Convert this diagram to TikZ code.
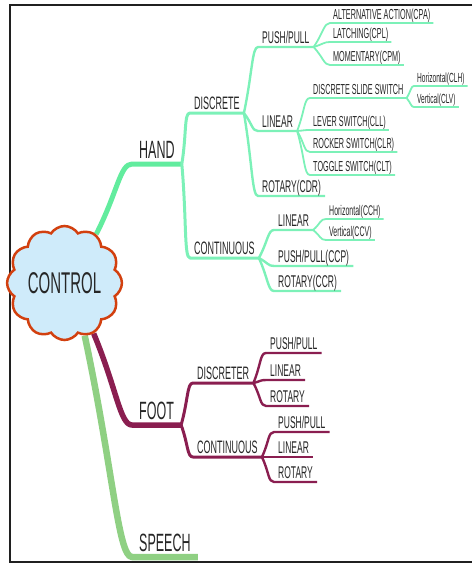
\documentclass[tikz,border=0pt]{standalone}
\usepackage{fontspec}
\usetikzlibrary{shapes.symbols,calc}
\newfontfamily\mmfont[FakeStretch=0.5]{Liberation Sans}
\definecolor{hand}{HTML}{62EC9E}
\definecolor{handlt}{HTML}{7CF1B8}
\definecolor{foot}{HTML}{8A1E50}
\definecolor{speech}{HTML}{8FD083}
\definecolor{cloudfill}{HTML}{CFEBFA}
\definecolor{cloudline}{HTML}{D2400F}
\definecolor{txt}{HTML}{262626}
\definecolor{frame}{HTML}{202020}
\pgfdeclarelayer{background}
\pgfsetlayers{background,main}

\begin{document}
\begin{tikzpicture}[x=1pt,y=1pt,
      lab/.style={anchor=south west,inner ysep=3.5pt,text depth=0pt,text=txt},
      l1/.style={lab,inner xsep=7pt,inner ysep=5pt,font=\mmfont\fontsize{25}{25}\selectfont},
      l2/.style={lab,inner xsep=4pt,font=\mmfont\fontsize{18}{18}\selectfont},
      l3/.style={lab,inner xsep=4pt,font=\mmfont\fontsize{17}{17}\selectfont},
      l4/.style={lab,inner xsep=3pt,font=\mmfont\fontsize{14.5}{14.5}\selectfont},
      l5/.style={lab,inner xsep=3pt,font=\mmfont\fontsize{14}{14}\selectfont},
      twig/.style={to path={.. controls ($(\tikztostart)!.6!(\tikztotarget)$) and ([xshift=-#1]\tikztotarget) .. (\tikztotarget) \tikztonodes}},
      twig/.default=6pt,
      hand1/.style={draw=hand,line width=5pt,line join=round},
      hand2/.style={draw=handlt,line width=3pt,line join=round},
      hand3/.style={draw=handlt,line width=2.4pt,line join=round},
      hand4/.style={draw=handlt,line width=1.8pt,line join=round},
      foot1/.style={draw=foot,line width=5.5pt,line join=round},
      foot2/.style={draw=foot,line width=3pt,line join=round},
      foot3/.style={draw=foot,line width=2.4pt,line join=round},
      speech1/.style={draw=speech,line width=6.5pt,line join=round}]
    \useasboundingbox (0,0) rectangle (472,-565);
    \clip (0,0) rectangle (472,-565);
    \draw[frame,line width=2pt] (472,-4.5) -- (9.5,-4.5) -- (9.5,-562) -- (472,-562);

    \node[cloud,cloud puffs=12,cloud puff arc=115,cloud ignores aspect,draw=cloudline,line width=2.5pt,
          fill=cloudfill,minimum width=99pt,minimum height=114pt,text=txt,
          font=\mmfont\fontsize{30}{30}\selectfont] (control) at (64.5,-283) {CONTROL};

    % main branches
    \node[l1] (hand) at (132,-164) {HAND};
    \node[l1] (foot) at (132,-425) {FOOT};
    \node[l1] (speech) at (132,-557) {SPEECH};

    % hand
    \node[l2] (discrete) at (190,-113) {DISCRETE};
    \node[l2] (continuous) at (190,-258) {CONTINUOUS};
    \node[l3] (dpush) at (258,-47) {PUSH/PULL};
    \node[l3] (dlinear) at (258,-131) {LINEAR};
    \node[l3] (drotary) at (258,-196) {ROTARY(CDR)};
    \node[l4] (alt) at (330,-23) {ALTERNATIVE ACTION(CPA)};
    \node[l4] (latch) at (330,-42) {LATCHING(CPL)};
    \node[l4] (moment) at (330,-65) {MOMENTARY(CPM)};
    \node[l4] (slide) at (310,-98) {DISCRETE SLIDE SWITCH};
    \node[l4] (lever) at (310,-130) {LEVER SWITCH(CLL)};
    \node[l4] (rocker) at (310,-152) {ROCKER SWITCH(CLR)};
    \node[l4] (toggle) at (310,-175) {TOGGLE SWITCH(CLT)};
    \node[l5,font=\mmfont\fontsize{13.2}{13.2}\selectfont] (clh) at (414,-86) {Horizontal(CLH)};
    \node[l5,font=\mmfont\fontsize{13.2}{13.2}\selectfont] (clv) at (414,-107) {Vertical(CLV)};
    \node[l3] (clinear) at (274,-230) {LINEAR};
    \node[l3] (cpush) at (274,-266) {PUSH/PULL(CCP)};
    \node[l3] (crotary) at (274,-291) {ROTARY(CCR)};
    \node[l5] (cch) at (326,-219) {Horizontal(CCH)};
    \node[l5] (ccv) at (326,-240) {Vertical(CCV)};

    % foot
    \node[l2] (discreter) at (193,-383) {DISCRETER};
    \node[l2] (footcont) at (193,-457) {CONTINUOUS};
    \node[l3] (fdpush) at (266,-353) {PUSH/PULL};
    \node[l3] (fdlinear) at (266,-380) {LINEAR};
    \node[l3] (fdrotary) at (266,-406) {ROTARY};
    \node[l3] (fcpush) at (274,-432) {PUSH/PULL};
    \node[l3] (fclinear) at (274,-457) {LINEAR};
    \node[l3] (fcrotary) at (274,-482) {ROTARY};

    \begin{pgfonlayer}{background}
    \draw[hand1] (control.57) to[twig=12pt] (hand.south west) -- (hand.south east);
    \draw[foot1] (control.-60) to[twig=12pt] (foot.south west) -- (foot.south east);
    \draw[speech1] (control.-69) to[twig=14pt] (speech.south west) -- (speech.south east);

    \foreach \n in {discrete,continuous}
      \draw[hand2] (hand.south east) to[twig] (\n.south west) -- (\n.south east);
    \foreach \n in {dpush,dlinear,drotary}
      \draw[hand3] (discrete.south east) to[twig] (\n.south west) -- (\n.south east);
    \foreach \n in {clinear,cpush,crotary}
      \draw[hand3] (continuous.south east) to[twig] (\n.south west) -- (\n.south east);
    \foreach \n in {alt,latch,moment}
      \draw[hand4] (dpush.south east) to[twig] (\n.south west) -- (\n.south east);
    \foreach \n in {slide,lever,rocker,toggle}
      \draw[hand4] (dlinear.south east) to[twig] (\n.south west) -- (\n.south east);
    \foreach \n in {clh,clv}
      \draw[hand4] (slide.south east) to[twig=3pt] (\n.south west) -- (\n.south east);
    \foreach \n in {cch,ccv}
      \draw[hand4] (clinear.south east) to[twig] (\n.south west) -- (\n.south east);

    \foreach \n in {discreter,footcont}
      \draw[foot2] (foot.south east) to[twig] (\n.south west) -- (\n.south east);
    \foreach \n in {fdpush,fdlinear,fdrotary}
      \draw[foot3] (discreter.south east) to[twig] (\n.south west) -- (\n.south east);
    \foreach \n in {fcpush,fclinear,fcrotary}
      \draw[foot3] (footcont.south east) to[twig] (\n.south west) -- (\n.south east);
    \end{pgfonlayer}
\end{tikzpicture}
\end{document}
